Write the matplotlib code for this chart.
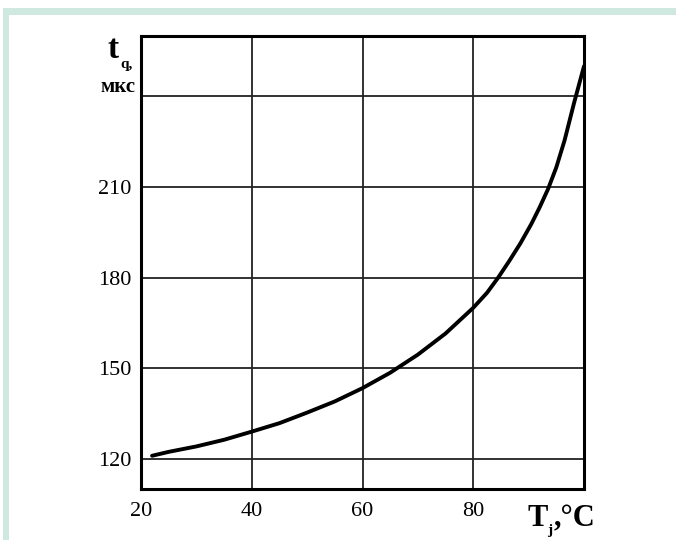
import matplotlib
matplotlib.use("Agg")
import matplotlib.pyplot as plt
from matplotlib.patches import Rectangle

plt.rcParams['font.family'] = ['Liberation Serif', 'DejaVu Serif']

temp_c = [22, 25, 30, 35, 40, 45, 50, 55, 60, 65, 70, 75, 80, 82.5, 84.5, 86.5, 88.5,
          90.5, 92, 93.5, 95, 96.5, 98.2, 100]
tq_us = [121, 122.3, 124.1, 126.3, 129, 131.8, 135.3, 139, 143.4, 148.5, 154.5,
         161.5, 170, 175, 180, 185.5, 191.3, 197.8, 203.3, 209.3, 216.5, 225.5, 237.8, 250]
x_ticks = [20, 40, 60, 80]
x_grid = [40, 60, 80]
y_ticks = [120, 150, 180, 210]
y_grid = [120, 150, 180, 210, 240]

W, H = 676, 540
fig = plt.figure(figsize=(W / 100, H / 100), dpi=100)
fig.patch.set_facecolor('white')

green = '#cfe9e1'
fig.add_artist(Rectangle((3 / W, 1 - 15 / H), 1, 7 / H, transform=fig.transFigure,
                         facecolor=green, edgecolor='none'))
fig.add_artist(Rectangle((3 / W, 0), 6 / W, 1 - 8 / H, transform=fig.transFigure,
                         facecolor=green, edgecolor='none'))

ax = fig.add_axes([141 / W, 1 - 489 / H, 443 / W, 453 / H])
ax.set_xlim(20, 100)
ax.set_ylim(110, 260)
for v in x_grid:
    ax.axvline(v, color='#222222', lw=1.3, zorder=1)
for v in y_grid:
    ax.axhline(v, color='#222222', lw=1.3, zorder=1)
ax.plot(temp_c, tq_us, color='black', lw=2.8, zorder=3, solid_capstyle='round',
        solid_joinstyle='round')

ax.set_xticks(x_ticks)
ax.set_yticks(y_ticks)
ax.tick_params(length=0, labelsize=16, pad=9)
ax.tick_params(axis='y', pad=7)
for s in ax.spines.values():
    s.set_linewidth(2.2)

fig.text(107 / W, 1 - 58 / H, 't', fontsize=24, fontweight='bold', ha='left', va='baseline')
fig.text(120 / W, 1 - 68 / H, 'q,', fontsize=11, fontweight='bold', ha='left', va='baseline')
fig.text(135 / W, 1 - 92 / H, 'мкс', fontsize=15, fontweight='bold', ha='right', va='baseline')

fig.text(528 / W, 1 - 526 / H, 'T', fontsize=22, fontweight='bold', ha='left', va='baseline')
fig.text(547 / W, 1 - 534 / H, 'j', fontsize=11, fontweight='bold', ha='left', va='baseline')
fig.text(595 / W, 1 - 526 / H, ',°C', fontsize=22, fontweight='bold', ha='right', va='baseline')

fig.savefig('out.png', dpi=100)
